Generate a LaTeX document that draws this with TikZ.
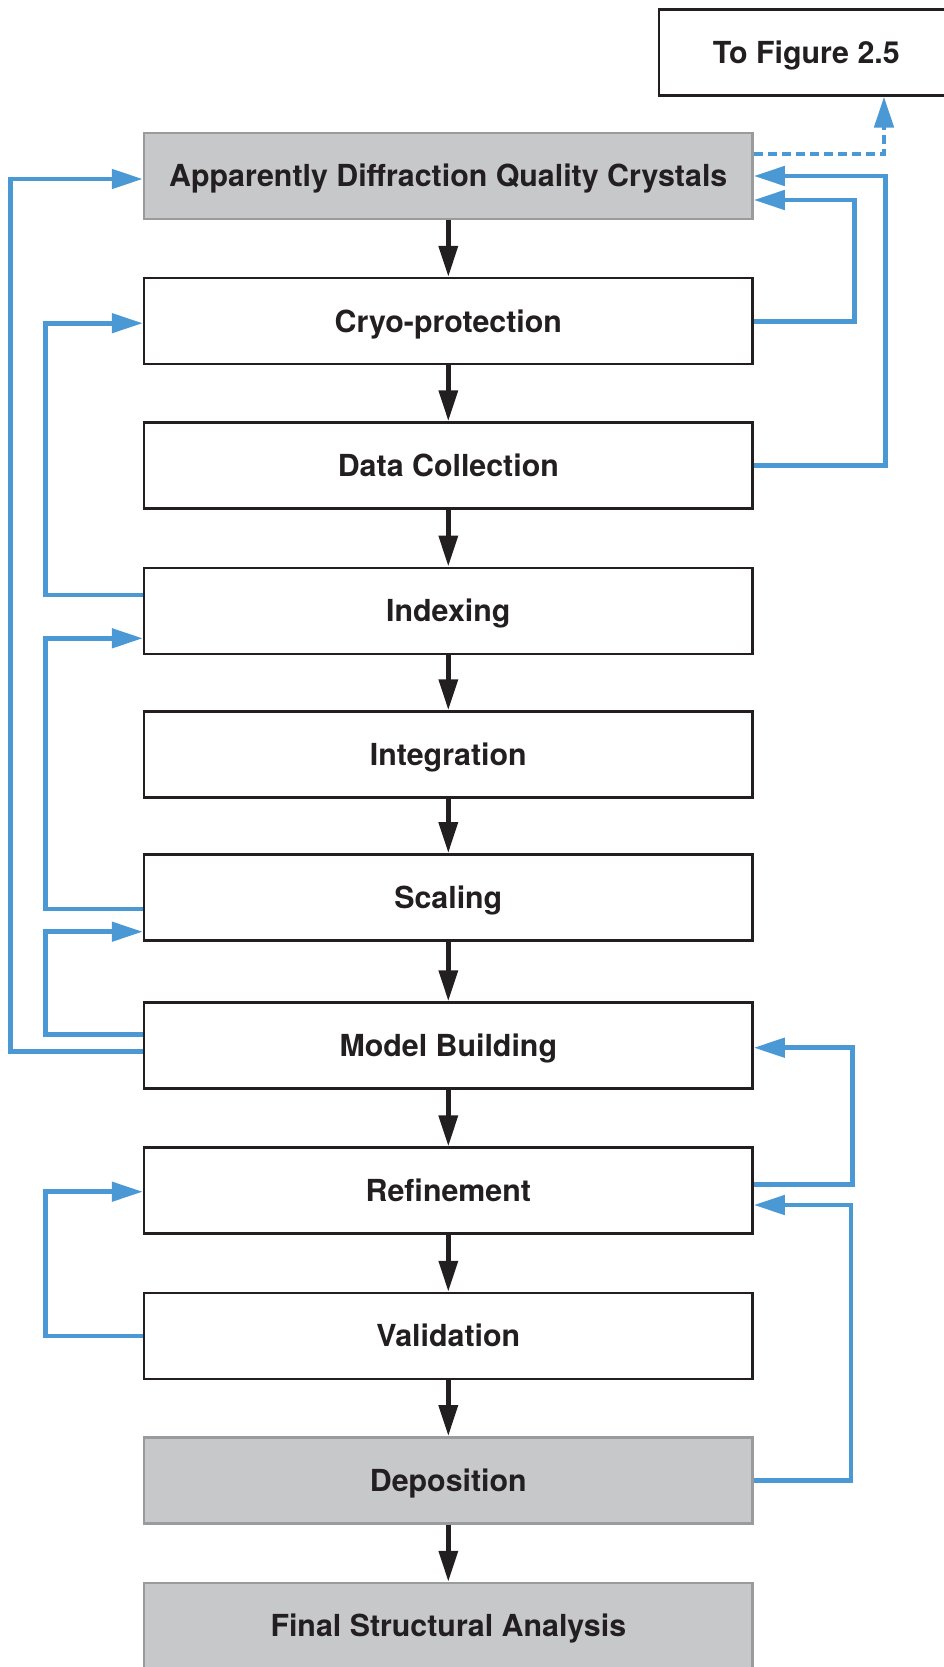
\documentclass[tikz,border=0pt]{standalone}
\usepackage{fontspec}
\setmainfont{TeX Gyre Heros}
\usetikzlibrary{arrows.meta}
\definecolor{fblue}{RGB}{74,152,212}
\definecolor{ink}{RGB}{35,31,32}
\definecolor{boxgray}{RGB}{199,200,202}
\definecolor{bordergray}{RGB}{154,155,157}
\begin{document}
\begin{tikzpicture}[x=1pt,y=-1pt,
  stepbox/.style={draw=ink,line width=2.5pt,fill=white,minimum width=608.5pt,minimum height=86pt,
    inner sep=0pt,text=ink,font=\fontsize{30.35}{36}\selectfont\bfseries,text height=21.7pt,text depth=0pt},
  graybox/.style={stepbox,draw=bordergray,fill=boxgray},
  flow/.style={draw=ink,line width=5pt,-{Triangle[length=31pt,width=18.5pt]}},
  fb/.style={draw=fblue,line width=4.7pt,-{Triangle[length=31pt,width=19pt]}},
  fbdot/.style={fb,dash pattern=on 9pt off 5pt}]
\useasboundingbox (0,0) rectangle (943,1667);
\node[graybox] (app) at (448.3,176) {Apparently Diffraction Quality Crystals};
\node[stepbox] (cryo) at (448.3,321.2) {Cryo-protection};
\node[stepbox] (data) at (448.3,465.5) {Data Collection};
\node[stepbox] (idx) at (448.3,610.8) {Indexing};
\node[stepbox] (integ) at (448.3,754.5) {Integration};
\node[stepbox] (scal) at (448.3,897.4) {Scaling};
\node[stepbox] (model) at (448.3,1045.5) {Model Building};
\node[stepbox] (refin) at (448.3,1190.7) {Refinement};
\node[stepbox] (valid) at (448.3,1336) {Validation};
\node[graybox] (depos) at (448.3,1480.4) {Deposition};
\node[graybox] (final) at (448.3,1626) {Final Structural Analysis};
\node[stepbox,minimum width=295pt] (fig) at (806.3,52.3) {To Figure 2.5};
% main flow
\draw[flow] (app) -- (cryo);
\draw[flow] (cryo) -- (data);
\draw[flow] (data) -- (idx);
\draw[flow] (idx) -- (integ);
\draw[flow] (integ) -- (scal);
\draw[flow] (scal) -- (model);
\draw[flow] (model) -- (refin);
\draw[flow] (refin) -- (valid);
\draw[flow] (valid) -- (depos);
\draw[flow] (depos) -- (final);
% right feedback
\draw[fb] (cryo.east) -- ++(100.4,0) |- ([yshift=-24pt]app.east);
\draw[fb] (data.east) -- ++(131.4,0) |- (app.east);
\draw[fb] ([yshift=6.5pt]refin.east) -- ++(98.7,0) |- ([yshift=-2.2pt]model.east);
\draw[fb] (depos.east) -- ++(97.2,0) |- ([yshift=-14.3pt]refin.east);
% left feedback
\draw[fb] ([yshift=15.8pt]idx.west) -- ++(-97,0) |- ([yshift=-2pt]cryo.west);
\draw[fb] ([yshift=-11.6pt]scal.west) -- ++(-97,0) |- ([yshift=-27.5pt]idx.west);
\draw[fb] ([yshift=11.2pt]model.west) -- ++(-97,0) |- ([yshift=-34.3pt]scal.west);
\draw[fb] ([yshift=-6.2pt]model.west) -- ++(-132,0) |- ([yshift=-3pt]app.west);
\draw[fb] (valid.west) -- ++(-97,0) |- ([yshift=-1pt]refin.west);
% dotted to figure
\draw[fbdot] ([yshift=22pt]app.east) -| ([xshift=77.7pt]fig.south);
\end{tikzpicture}
\end{document}
